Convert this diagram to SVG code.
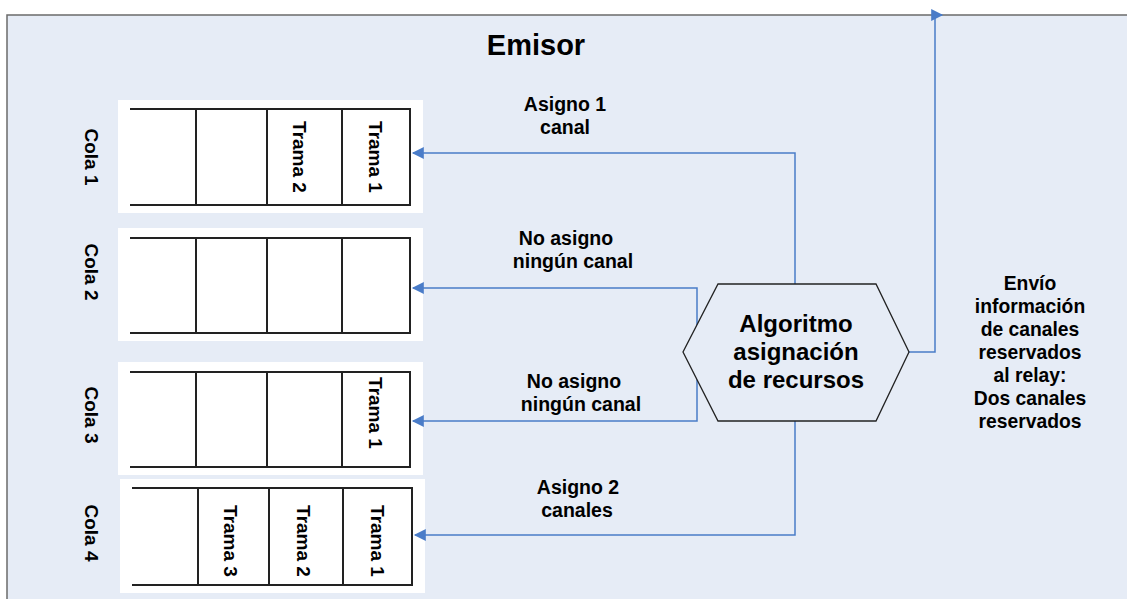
<svg xmlns="http://www.w3.org/2000/svg" width="1127" height="599" viewBox="0 0 1127 599">
<defs>
<style>
.t{font-family:"Liberation Sans",Arial,sans-serif;font-weight:bold;fill:#000}
.lbl{font-size:19.5px;text-anchor:middle}
.rot{font-size:19px;text-anchor:middle}
.qbg{fill:#fff}
.ql{fill:none;stroke:#222;stroke-width:2}
.con{fill:none;stroke:#4a7cc8;stroke-width:1.5}
</style>
<marker id="ah" viewBox="0 0 10 10" refX="9" refY="5" markerWidth="14" markerHeight="12" markerUnits="userSpaceOnUse" orient="auto">
<path d="M0,0 L10,5 L0,10 z" fill="#4a7cc8"/>
</marker>
</defs>
<rect x="0" y="0" width="1127" height="599" fill="#fff"/>
<rect id="emisor" x="7" y="15" width="1130" height="600" fill="#e6ecf6" stroke="#6b6b6b" stroke-width="1.5"/>
<text class="t" x="536" y="55" font-size="29" text-anchor="middle">Emisor</text>

<g id="cola1">
<rect class="qbg" x="118" y="100" width="305" height="113"/>
<path class="ql" d="M130,109 H410 V205 H130 M196,109 V205 M267,109 V205 M342,109 V205"/>
<text class="t rot" transform="translate(85,157) rotate(90)">Cola 1</text>
<text class="t rot" transform="translate(293,157) rotate(90)">Trama 2</text>
<text class="t rot" transform="translate(369,157) rotate(90)">Trama 1</text>
</g>

<g id="cola2">
<rect class="qbg" x="118" y="228" width="305" height="113"/>
<path class="ql" d="M130,238 H410 V333 H130 M196,238 V333 M267,238 V333 M342,238 V333"/>
<text class="t rot" transform="translate(85,272) rotate(90)">Cola 2</text>
</g>

<g id="cola3">
<rect class="qbg" x="118" y="362" width="305" height="113"/>
<path class="ql" d="M130,372 H410 V467 H130 M196,372 V467 M267,372 V467 M342,372 V467"/>
<text class="t rot" transform="translate(85,415) rotate(90)">Cola 3</text>
<text class="t rot" transform="translate(369,413) rotate(90)">Trama 1</text>
</g>

<g id="cola4">
<rect class="qbg" x="120" y="479" width="305" height="114"/>
<path class="ql" d="M132,488 H412 V585 H132 M198,488 V585 M269,488 V585 M343,488 V585"/>
<text class="t rot" transform="translate(85,533) rotate(90)">Cola 4</text>
<text class="t rot" transform="translate(224,541) rotate(90)">Trama 3</text>
<text class="t rot" transform="translate(297,541) rotate(90)">Trama 2</text>
<text class="t rot" transform="translate(371,541) rotate(90)">Trama 1</text>
</g>

<g id="connectors">
<path class="con" d="M795,352 V153 H413" marker-end="url(#ah)"/>
<path class="con" d="M795,352 H697 V288 H413" marker-end="url(#ah)"/>
<path class="con" d="M795,352 H697 V421 H413" marker-end="url(#ah)"/>
<path class="con" d="M795,352 V535 H415" marker-end="url(#ah)"/>
<path class="con" d="M795,352 H935 V15 H942" marker-end="url(#ah)"/>
</g>

<g id="labels">
<text class="t lbl"><tspan x="565" y="111">Asigno 1</tspan><tspan x="565" y="134">canal</tspan></text>
<text class="t lbl"><tspan x="566" y="245">No asigno</tspan><tspan x="573" y="268">ningún canal</tspan></text>
<text class="t lbl"><tspan x="574" y="388">No asigno</tspan><tspan x="581" y="411">ningún canal</tspan></text>
<text class="t lbl"><tspan x="578" y="494">Asigno 2</tspan><tspan x="577" y="517">canales</tspan></text>
</g>

<g id="algoritmo">
<polygon points="718,284 876,284 909,352 876,421 718,421 683,352" fill="#e6ecf6" stroke="#222" stroke-width="1.3"/>
<text class="t" font-size="24" text-anchor="middle"><tspan x="796" y="332">Algoritmo</tspan><tspan x="796" y="360">asignación</tspan><tspan x="796" y="388">de recursos</tspan></text>
</g>

<g id="envio">
<text class="t" font-size="19.3" text-anchor="middle"><tspan x="1030" y="290">Envío</tspan><tspan x="1030" y="313">información</tspan><tspan x="1030" y="336">de canales</tspan><tspan x="1030" y="359">reservados</tspan><tspan x="1030" y="382">al relay:</tspan><tspan x="1030" y="405">Dos canales</tspan><tspan x="1030" y="428">reservados</tspan></text>
</g>
</svg>
